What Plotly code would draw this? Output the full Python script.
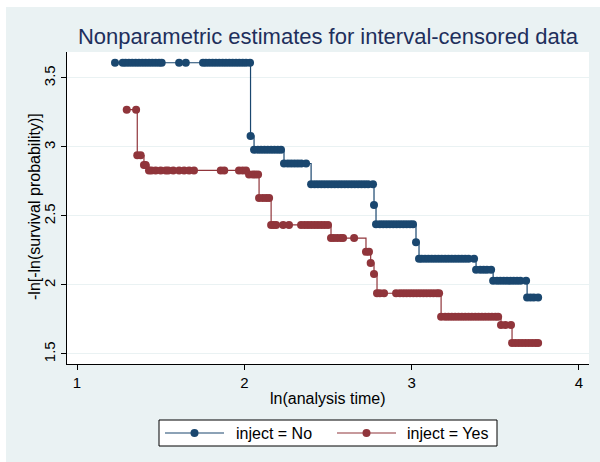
import plotly.graph_objects as go

# Turnbull-type step estimates, -ln[-ln(S)] against ln(time)
no_x = [1.227, 1.273, 1.29, 1.31, 1.33, 1.35, 1.37, 1.39, 1.41, 1.43, 1.45, 1.47, 1.49, 1.506,
        1.610, 1.650,
        1.753, 1.77, 1.79, 1.81, 1.83, 1.85, 1.87, 1.89, 1.91, 1.93, 1.95, 1.97, 1.99, 2.01, 2.034,
        2.037,
        2.058, 2.08, 2.10, 2.12, 2.14, 2.16, 2.18, 2.20, 2.219,
        2.237, 2.26, 2.28, 2.30, 2.32, 2.34, 2.369,
        2.399, 2.42, 2.44, 2.46, 2.48, 2.50, 2.52, 2.54, 2.56, 2.58, 2.60, 2.62, 2.64, 2.66, 2.68,
        2.70, 2.72, 2.74, 2.769,
        2.775,
        2.787, 2.81, 2.83, 2.85, 2.87, 2.89, 2.91, 2.93, 2.95, 2.97, 2.99, 3.008,
        3.026,
        3.044, 3.06, 3.08, 3.10, 3.12, 3.14, 3.16, 3.18, 3.20, 3.22, 3.24, 3.26, 3.28, 3.30, 3.32,
        3.34, 3.373,
        3.385, 3.41, 3.43, 3.45, 3.475,
        3.487, 3.51, 3.53, 3.55, 3.57, 3.59, 3.61, 3.63, 3.65, 3.684,
        3.690, 3.71, 3.73, 3.756]
no_y = [3.61] * 31 + [3.08] + [2.98] * 9 + [2.88] * 7 + [2.73] * 19 + [2.58] + [2.44] * 12 \
    + [2.31] + [2.19] * 17 + [2.11] * 5 + [2.03] * 10 + [1.91] * 4

yes_x = [1.297, 1.353,
         1.36, 1.38,
         1.40, 1.41,
         1.43, 1.445, 1.47, 1.50, 1.53, 1.545, 1.575, 1.61, 1.64, 1.67, 1.699, 1.859, 1.880,
         1.968, 1.99, 2.010,
         2.028, 2.05, 2.065, 2.082,
         2.088, 2.11, 2.13, 2.148,
         2.160, 2.175, 2.19, 2.232, 2.267, 2.339, 2.36, 2.38, 2.40, 2.42, 2.44, 2.46, 2.48, 2.50,
         2.518, 2.535, 2.555, 2.575, 2.590, 2.656,
         2.727, 2.745,
         2.755,
         2.775,
         2.793, 2.81, 2.835, 2.907, 2.93, 2.95, 2.97, 2.99, 3.01, 3.03, 3.05, 3.07, 3.09, 3.11,
         3.13, 3.15, 3.164,
         3.176, 3.20, 3.22, 3.24, 3.26, 3.28, 3.30, 3.32, 3.34, 3.36, 3.38, 3.40, 3.42, 3.44,
         3.46, 3.48, 3.50, 3.517,
         3.534, 3.56, 3.594,
         3.600, 3.62, 3.64, 3.66, 3.68, 3.70, 3.72, 3.74, 3.756]
yes_y = [3.27] * 2 + [2.94] * 2 + [2.87] * 2 + [2.83] * 16 + [2.80] * 4 + [2.63] * 4 \
    + [2.435] * 14 + [2.34] * 6 + [2.24] * 2 + [2.16] + [2.08] + [1.94] * 17 + [1.77] * 18 \
    + [1.71] * 3 + [1.58] * 9

groups = ["inject = No", "inject = Yes"]
colors = ["#1a476f", "#90353b"]
x_ticks = [1, 2, 3, 4]
y_ticks = [1.5, 2, 2.5, 3, 3.5]

BG = "#eaf2f3"
FONT = "Liberation Sans, Arial, sans-serif"

fig = go.Figure()
for name, xs, ys, col in zip(groups, [no_x, yes_x], [no_y, yes_y], colors):
    fig.add_trace(go.Scatter(
        x=xs, y=ys, name=name, mode="lines+markers",
        line=dict(color=col, width=1.2, shape="hv"),
        marker=dict(color=col, size=8, line=dict(width=0)),
        showlegend=False,
    ))

W, H = 600, 462
L, R, T, B = 67, 11, 52, 98
pw, ph = W - L - R, H - T - B


def px(xp):
    return (xp - L) / pw


def py(yp):
    return (H - B - yp) / ph


shapes = []
annotations = []

# legend box drawn beneath the axis title
shapes.append(dict(type="rect", xref="paper", yref="paper",
                   x0=px(159), x1=px(497), y0=py(446), y1=py(420),
                   fillcolor="white", line=dict(color="black", width=1), layer="above"))
leg_y = 433
for name, col, lx0, lx1, tx in [(groups[0], colors[0], 165, 224, 234),
                                 (groups[1], colors[1], 337, 396, 405)]:
    shapes.append(dict(type="line", xref="paper", yref="paper",
                       x0=px(lx0), x1=px(lx1), y0=py(leg_y), y1=py(leg_y),
                       line=dict(color=col, width=1.2), layer="above"))
    shapes.append(dict(type="circle", xref="paper", yref="paper",
                       xsizemode="pixel", ysizemode="pixel",
                       xanchor=px((lx0 + lx1) / 2), yanchor=py(leg_y),
                       x0=-4, x1=4, y0=-4, y1=4,
                       fillcolor=col, line=dict(width=0), layer="above"))
    annotations.append(dict(text=name, xref="paper", yref="paper", x=px(tx), y=py(leg_y),
                            xanchor="left", yanchor="middle", showarrow=False,
                            font=dict(size=16, color="black", family=FONT)))

# thin white margin at the left and top edges of the graph
shapes.append(dict(type="rect", xref="paper", yref="paper",
                   x0=px(0), x1=px(6), y0=py(H), y1=py(0),
                   fillcolor="white", line=dict(width=0), layer="above"))
shapes.append(dict(type="rect", xref="paper", yref="paper",
                   x0=px(0), x1=px(W), y0=py(7), y1=py(0),
                   fillcolor="white", line=dict(width=0), layer="above"))

# axis titles
annotations.append(dict(text="ln(analysis time)", xref="paper", yref="paper",
                        x=px(328), y=py(398), xanchor="center", yanchor="middle",
                        showarrow=False, font=dict(size=16, color="black", family=FONT)))
annotations.append(dict(text="-ln[-ln(survival probability)]", xref="paper", yref="paper",
                        x=px(34), y=py(207), xanchor="center", yanchor="middle",
                        textangle=-90, showarrow=False,
                        font=dict(size=16, color="black", family=FONT)))

fig.update_layout(
    width=W, height=H,
    margin=dict(l=L, r=R, t=T, b=B, pad=0),
    paper_bgcolor=BG, plot_bgcolor="white",
    font=dict(family=FONT, color="black"),
    title=dict(text="Nonparametric estimates for interval-censored data",
               x=px(328), xref="paper", xanchor="center",
               y=1 - 36 / H, yref="container", yanchor="middle",
               font=dict(size=22, color="#1e2f5c", family=FONT)),
    shapes=shapes, annotations=annotations,
    showlegend=False,
)
fig.update_xaxes(range=[0.940, 4.060], tickvals=x_ticks, ticktext=[str(v) for v in x_ticks],
                 showgrid=False, zeroline=False, showline=True, linecolor="black", linewidth=1,
                 ticks="outside", ticklen=5, tickcolor="black", tickwidth=1,
                 tickfont=dict(size=15, color="black"))
fig.update_yaxes(range=[1.4275, 3.688], tickvals=y_ticks, ticktext=[f"{v:g}" for v in y_ticks],
                 showgrid=True, gridcolor=BG, gridwidth=1, zeroline=False,
                 showline=True, linecolor="black", linewidth=1,
                 ticks="outside", ticklen=5, tickcolor="black", tickwidth=1,
                 tickangle=-90, tickfont=dict(size=15, color="black"))

fig.write_html("out.html")
